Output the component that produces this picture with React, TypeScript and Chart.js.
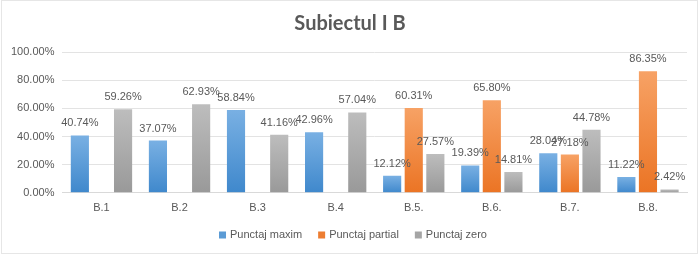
import React, { useEffect, useRef } from "react";
import { Chart, registerables } from "chart.js";

Chart.register(...registerables);

const categories = ["B.1", "B.2", "B.3", "B.4", "B.5.", "B.6.", "B.7.", "B.8."];
const punctajMaxim = [40.74, 37.07, 58.84, 42.96, 12.12, 19.39, 28.04, 11.22];
const punctajPartial = [0, 0, 0, 0, 60.31, 65.8, 27.18, 86.35];
const punctajZero = [59.26, 62.93, 41.16, 57.04, 27.57, 14.81, 44.78, 2.42];
const seriesNames = ["Punctaj maxim", "Punctaj partial", "Punctaj zero"];
const titleText = "Subiectul I B";

const solid = ["#5B9BD5", "#ED7D31", "#A5A5A5"];
const gradTop = ["#79B0E3", "#F7A265", "#BDBDBD"];
const gradBottom = ["#3F88CC", "#EB7424", "#999999"];

const TEXT = "#595959";
const FONT = "'Liberation Sans', Arial, sans-serif";

function gradientFor(idx: number) {
  return (ctx: any) => {
    const chart = ctx.chart;
    const area = chart.chartArea;
    if (!area || ctx.type !== "data") return solid[idx];
    const y = chart.scales.y;
    const v = ctx.raw as number;
    const top = y.getPixelForValue(v);
    const base = y.getPixelForValue(0);
    if (!isFinite(top) || !isFinite(base) || Math.abs(base - top) < 1) return solid[idx];
    const g = chart.ctx.createLinearGradient(0, top, 0, base);
    g.addColorStop(0, gradTop[idx]);
    g.addColorStop(1, gradBottom[idx]);
    return g;
  };
}

const labelPlugin = {
  id: "valueLabels",
  afterDatasetsDraw(chart: any) {
    const ctx = chart.ctx;
    ctx.save();
    ctx.font = `11px ${FONT}`;
    ctx.fillStyle = TEXT;
    ctx.textAlign = "center";
    ctx.textBaseline = "alphabetic";
    chart.data.datasets.forEach((ds: any, di: number) => {
      const meta = chart.getDatasetMeta(di);
      meta.data.forEach((bar: any, i: number) => {
        const v = ds.data[i];
        if (!v) return;
        ctx.fillText(v.toFixed(2) + "%", bar.x, bar.y - 9);
      });
    });
    ctx.restore();
  },
};

const titleLegendPlugin = {
  id: "titleLegend",
  afterDraw(chart: any) {
    const ctx = chart.ctx;
    ctx.save();
    // title
    ctx.font = `bold 20px Lato, 'Liberation Sans', sans-serif`;
    ctx.fillStyle = TEXT;
    ctx.textAlign = "center";
    ctx.textBaseline = "middle";
    ctx.fillText(titleText, chart.width / 2, 24);
    // legend
    ctx.font = `11px ${FONT}`;
    const box = 7;
    const gapBoxText = 4;
    const gapItems = 16;
    const widths = seriesNames.map((n) => box + gapBoxText + ctx.measureText(n).width);
    const total = widths.reduce((a, b) => a + b, 0) + gapItems * (seriesNames.length - 1);
    let x = chart.width / 2 + 3 - total / 2;
    const yc = 235;
    ctx.textAlign = "left";
    seriesNames.forEach((n, i) => {
      ctx.fillStyle = solid[i];
      ctx.fillRect(x, yc - box / 2, box, box);
      ctx.fillStyle = TEXT;
      ctx.fillText(n, x + box + gapBoxText, yc);
      x += widths[i] + gapItems;
    });
    ctx.restore();
  },
};

export default function App() {
  const ref = useRef<HTMLCanvasElement>(null);
  useEffect(() => {
    document.body.style.margin = "0";
    const seriesData = [punctajMaxim, punctajPartial, punctajZero];
    const chart = new Chart(ref.current!, {
      type: "bar",
      data: {
        labels: categories,
        datasets: seriesData.map((d, i) => ({
          label: seriesNames[i],
          data: d,
          backgroundColor: gradientFor(i),
          borderWidth: 0,
          categoryPercentage: 0.83,
          barPercentage: 0.84,
        })),
      },
      options: {
        animation: false,
        responsive: false,
        maintainAspectRatio: false,
        layout: { padding: { left: 3, right: 13, top: 52, bottom: 32 } },
        plugins: {
          title: { display: false },
          legend: { display: false },
          tooltip: { enabled: false },
        },
        scales: {
          x: {
            grid: { display: false, drawTicks: false },
            border: { display: true, color: "#D9D9D9" },
            ticks: { color: TEXT, font: { family: FONT, size: 11 }, padding: 9 },
          },
          y: {
            min: 0,
            max: 100,
            grid: { color: "#E3E3E3", drawTicks: false },
            border: { display: false },
            ticks: {
              stepSize: 20,
              color: TEXT,
              font: { family: FONT, size: 11 },
              padding: 8,
              callback: (v: any) => Number(v).toFixed(2) + "%",
            },
          },
        },
      },
      plugins: [labelPlugin, titleLegendPlugin],
    });
    return () => chart.destroy();
  }, []);
  return (
    <div style={{ position: "relative", width: 700, height: 256, background: "#fff" }}>
      <div
        style={{
          position: "absolute",
          left: 1,
          top: 0,
          width: 695,
          height: 252,
          border: "1px solid #E6E6E6",
          pointerEvents: "none",
        }}
      />
      <canvas ref={ref} width={700} height={256} style={{ display: "block" }} />
    </div>
  );
}
